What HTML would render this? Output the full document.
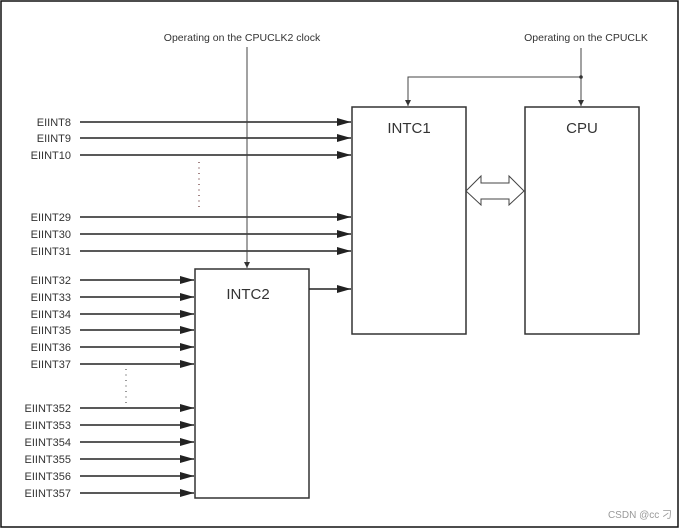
<!DOCTYPE html>
<html><head><style>
html,body{margin:0;padding:0;background:#fff;}
svg{display:block;}
text{font-family:"Liberation Sans",Arial,sans-serif;fill:#333;}
</style></head><body>
<svg width="681" height="529" viewBox="0 0 681 529" xmlns="http://www.w3.org/2000/svg">
<defs>
<marker id="a" markerWidth="14" markerHeight="8" refX="14" refY="4" orient="auto" markerUnits="userSpaceOnUse"><path d="M0,0 L14,4 L0,8 Z" fill="#222"/></marker>
<marker id="s" markerWidth="6" markerHeight="6" refX="3" refY="6" orient="0" markerUnits="userSpaceOnUse"><path d="M0,0 L6,0 L3,6 Z" fill="#333"/></marker>
</defs>
<rect x="1" y="1" width="677" height="526" fill="none" stroke="#111" stroke-width="1.5"/>
<g stroke="#333" stroke-width="1.5" fill="none">
<rect x="352" y="107" width="114" height="227"/>
<rect x="525" y="107" width="114" height="227"/>
<rect x="195" y="269" width="114" height="229"/>
</g>
<g stroke="#222" stroke-width="1.6" marker-end="url(#a)">
<line x1="80" y1="122" x2="351" y2="122"/>
<line x1="80" y1="138" x2="351" y2="138"/>
<line x1="80" y1="155" x2="351" y2="155"/>
<line x1="80" y1="217" x2="351" y2="217"/>
<line x1="80" y1="234" x2="351" y2="234"/>
<line x1="80" y1="251" x2="351" y2="251"/>
<line x1="309" y1="289" x2="351" y2="289"/>
<line x1="80" y1="280" x2="194" y2="280"/>
<line x1="80" y1="297" x2="194" y2="297"/>
<line x1="80" y1="314" x2="194" y2="314"/>
<line x1="80" y1="330" x2="194" y2="330"/>
<line x1="80" y1="347" x2="194" y2="347"/>
<line x1="80" y1="364" x2="194" y2="364"/>
<line x1="80" y1="408" x2="194" y2="408"/>
<line x1="80" y1="425" x2="194" y2="425"/>
<line x1="80" y1="442" x2="194" y2="442"/>
<line x1="80" y1="459" x2="194" y2="459"/>
<line x1="80" y1="476" x2="194" y2="476"/>
<line x1="80" y1="493" x2="194" y2="493"/>
</g>
<g stroke="#444" stroke-width="1" fill="none">
<line x1="247" y1="47" x2="247" y2="268" marker-end="url(#s)"/>
<line x1="581" y1="48" x2="581" y2="106" marker-end="url(#s)"/>
<polyline points="581,77 408,77 408,106" marker-end="url(#s)"/>
</g>
<circle cx="581" cy="77" r="1.8" fill="#333"/>
<path d="M466,191 L481,176 L481,183 L509,183 L509,176 L524,191 L509,205 L509,199 L481,199 L481,205 Z" fill="#fff" stroke="#444" stroke-width="1"/>
<line x1="199" y1="162" x2="199" y2="208" stroke="#633" stroke-width="1.2" stroke-dasharray="1,4.5"/>
<line x1="126" y1="369" x2="126" y2="403" stroke="#555" stroke-width="1.2" stroke-dasharray="1,4.5"/>
<g font-size="11" text-anchor="end">
<text x="71" y="126">EIINT8</text>
<text x="71" y="142">EIINT9</text>
<text x="71" y="159">EIINT10</text>
<text x="71" y="221">EIINT29</text>
<text x="71" y="238">EIINT30</text>
<text x="71" y="255">EIINT31</text>
<text x="71" y="284">EIINT32</text>
<text x="71" y="301">EIINT33</text>
<text x="71" y="318">EIINT34</text>
<text x="71" y="334">EIINT35</text>
<text x="71" y="351">EIINT36</text>
<text x="71" y="368">EIINT37</text>
<text x="71" y="412">EIINT352</text>
<text x="71" y="429">EIINT353</text>
<text x="71" y="446">EIINT354</text>
<text x="71" y="463">EIINT355</text>
<text x="71" y="480">EIINT356</text>
<text x="71" y="497">EIINT357</text>
</g>
<text x="242" y="41" font-size="10.5" text-anchor="middle">Operating on the CPUCLK2 clock</text>
<text x="586" y="41" font-size="10.5" text-anchor="middle">Operating on the CPUCLK</text>
<g font-size="15" text-anchor="middle">
<text x="409" y="133">INTC1</text>
<text x="582" y="133">CPU</text>
<text x="248" y="299">INTC2</text>
</g>
<text x="672" y="518" font-size="10" text-anchor="end" style="fill:#999">CSDN @cc 刁</text>
</svg>
</body></html>
